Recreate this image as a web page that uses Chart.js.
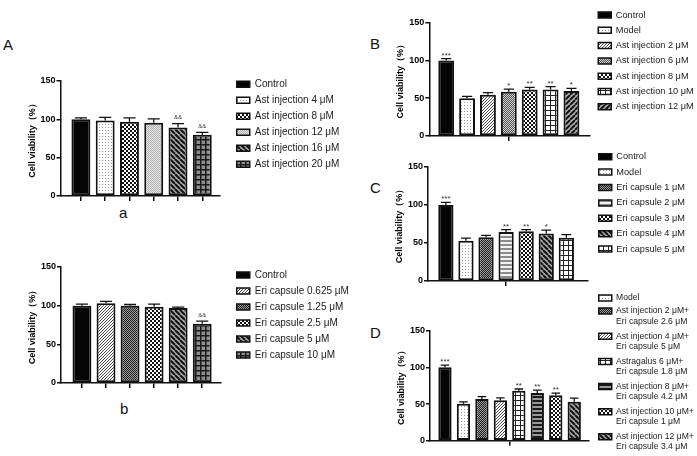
<!DOCTYPE html>
<html lang="en">
<head>
  <meta charset="UTF-8">
  <title>Cell viability | Ast injection and Eri capsule</title>
  <script src="https://cdn.jsdelivr.net/npm/chart.js"></script>
  <style>
    html, body { margin: 0; padding: 0; background: #fff; overflow: hidden; }
    #figure { position: relative; width: 697px; height: 456px; overflow: hidden; background: #fff; }
    #figure canvas { position: absolute; }
    .tag { position: absolute; font-family: "Liberation Sans Narrow", "Liberation Sans", Arial, sans-serif; font-size: 15px; line-height: 15px; color: #111; }
  </style>
</head>
<body>
<div id="figure">
  <div class="tag" style="left:3px; top:37px">A</div>
  <div class="tag" style="left:370px; top:36px">B</div>
  <div class="tag" style="left:370px; top:180px">C</div>
  <div class="tag" style="left:370px; top:325px">D</div>
  <div class="tag" style="left:119px; top:205px">a</div>
  <div class="tag" style="left:120px; top:401px">b</div>
  <canvas id="panelA"></canvas>
  <canvas id="panelB"></canvas>
  <canvas id="panelC"></canvas>
  <canvas id="panelD"></canvas>
  <canvas id="panelE"></canvas>
</div>

<script>
  // y axis ticks shared by every panel
  const yTicks = [0, 50, 100, 150];

  // A-a: Ast injection alone
  const aLabels = ['Control', 'Ast injection 4 μM', 'Ast injection 8 μM', 'Ast injection 12 μM', 'Ast injection 16 μM', 'Ast injection 20 μM'];
  const aValues = [100, 98.5, 97, 95.5, 89.5, 80];
  const aErrors = [2, 4, 5, 5, 5, 3];
  const aMarks = ['', '', '', '', '&&', '&&'];

  // A-b: Eri capsule alone
  const bLabels = ['Control', 'Eri capsule 0.625 μM', 'Eri capsule 1.25 μM', 'Eri capsule 2.5 μM', 'Eri capsule 5 μM', 'Eri capsule 10 μM'];
  const bValues = [100, 103, 100, 98.5, 97, 76.5];
  const bErrors = [2, 2.5, 1.5, 3.5, 1, 3.5];
  const bMarks = ['', '', '', '', '', '&&'];

  // B: Ast injection on the model
  const BLabels = ['Control', 'Model', 'Ast injection 2 μM', 'Ast injection 6 μM', 'Ast injection 8 μM', 'Ast injection 10 μM', 'Ast injection 12 μM'];
  const BValues = [100, 50, 54.5, 58.5, 61.5, 61.5, 59.5];
  const BErrors = [2.5, 2.5, 3, 3.5, 3, 4, 3.5];
  const BMarks = ['***', '', '', '*', '**', '**', '*'];

  // C: Eri capsule on the model
  const CLabels = ['Control', 'Model', 'Eri capsule 1 μM', 'Eri capsule 2 μM', 'Eri capsule 3 μM', 'Eri capsule 4 μM', 'Eri capsule 5 μM'];
  const CValues = [100, 53, 57.5, 64.5, 65.5, 62.5, 57];
  const CErrors = [3.5, 3.5, 2.5, 3, 2, 4.5, 4];
  const CMarks = ['***', '', '', '**', '**', '*', ''];

  // D: combinations
  const DLabels = ['Control', 'Model',
    ['Ast injection 2 μM+', 'Eri capsule 2.6 μM'],
    ['Ast injection 4 μM+', 'Eri capsule 5 μM'],
    ['Astragalus 6 μM+', 'Eri capsule 1.8 μM'],
    ['Ast injection 8 μM+', 'Eri capsule 4.2 μM'],
    ['Ast injection 10 μM+', 'Eri capsule 1 μM'],
    ['Ast injection 12 μM+', 'Eri capsule 3.4 μM']];
  const DValues = [100, 50.5, 57, 55, 68, 65, 62, 53];
  const DErrors = [3, 2.5, 3, 3.5, 2.5, 4, 3, 5];
  const DMarks = ['***', '', '', '', '**', '**', '**', ''];

  // fill pattern of each bar
  const aFills = ['solid', 'dots', 'check', 'stipple', 'back', 'grid'];
  const bFills = ['solid', 'hatch', 'checkDark', 'check', 'back', 'grid'];
  const BFills = ['solid', 'dots', 'hatch', 'checkGray', 'check', 'gridWhite', 'slash'];
  const CFills = ['solid', 'dots', 'checkDark', 'bands', 'check', 'back', 'gridWhite'];
  const DFills = ['solid', 'dots', 'checkDark', 'hatch', 'gridWhite', 'bandsDark', 'check', 'back'];

  const family = '"Liberation Sans", Arial, Helvetica, sans-serif';
  Chart.defaults.font.family = family;

  // --- patterns ---
  function tile(w, h, paint) {
    const c = document.createElement('canvas');
    c.width = w; c.height = h;
    const g = c.getContext('2d');
    paint(g);
    return g.createPattern(c, 'repeat');
  }
  function stripes(s, lw, fg, bg, back) {
    return tile(s, s, g => {
      g.fillStyle = bg; g.fillRect(0, 0, s, s);
      g.strokeStyle = fg; g.lineWidth = lw;
      g.beginPath();
      for (let k = -1; k <= 1; k++) {
        if (back) { g.moveTo(k * s, 0); g.lineTo(k * s + s, s); }
        else { g.moveTo(k * s, s); g.lineTo(k * s + s, 0); }
      }
      g.stroke();
    });
  }
  function checker(cell, a, b) {
    return tile(cell * 2, cell * 2, g => {
      g.fillStyle = b; g.fillRect(0, 0, cell * 2, cell * 2);
      g.fillStyle = a; g.fillRect(0, 0, cell, cell); g.fillRect(cell, cell, cell, cell);
    });
  }
  function grid(s, lw, line, bg) {
    return tile(s, s, g => {
      g.fillStyle = bg; g.fillRect(0, 0, s, s);
      g.fillStyle = line; g.fillRect(0, 0, s, lw); g.fillRect(0, 0, lw, s);
    });
  }
  function bands(h, a, b) {
    return tile(2, h * 2, g => {
      g.fillStyle = b; g.fillRect(0, 0, 2, h * 2);
      g.fillStyle = a; g.fillRect(0, 0, 2, h);
    });
  }
  function dots(s, dot, bg) {
    return tile(s, s, g => {
      g.fillStyle = bg; g.fillRect(0, 0, s, s);
      g.fillStyle = dot; g.fillRect(0, 0, 1, 1);
    });
  }
  const fillMakers = {
    solid: () => '#050505',
    dots: () => dots(3, '#9a9a9a', '#fff'),
    stipple: () => checker(1, '#b4b4b4', '#e4e4e4'),
    check: () => checker(2, '#111', '#fff'),
    checkDark: () => checker(1, '#222', '#9a9a9a'),
    checkGray: () => checker(1, '#555', '#cfcfcf'),
    hatch: () => stripes(3, 0.9, '#333', '#fff', false),
    slash: () => stripes(5, 2, '#111', '#b0b0b0', false),
    back: () => stripes(5, 2, '#111', '#a8a8a8', true),
    grid: () => grid(5, 1.5, '#1a1a1a', '#8e8e8e'),
    gridWhite: () => grid(5, 1, '#222', '#fff'),
    bands: () => bands(2, '#8a8a8a', '#f2f2f2'),
    bandsDark: () => bands(2, '#1a1a1a', '#9a9a9a')
  };

  // error bars and significance marks above each bar
  const errorBars = {
    id: 'errorBars',
    afterDatasetsDraw(chart) {
      const { ctx } = chart;
      const y = chart.scales.y;
      ctx.save();
      ctx.strokeStyle = '#111';
      ctx.lineWidth = 1.3;
      ctx.fillStyle = '#333';
      ctx.textAlign = 'center';
      ctx.textBaseline = 'alphabetic';
      chart.data.datasets.forEach((ds, i) => {
        const bar = chart.getDatasetMeta(i).data[0];
        const top = y.getPixelForValue(ds.data[0].y + ds.err);
        const half = bar.width * 0.32;
        ctx.beginPath();
        ctx.moveTo(bar.x, bar.y);
        ctx.lineTo(bar.x, top);
        ctx.moveTo(bar.x - half, top);
        ctx.lineTo(bar.x + half, top);
        ctx.stroke();
        if (ds.mark) {
          const star = ds.mark.includes('*');
          ctx.font = (star ? '8px ' : '6px ') + family;
          ctx.fillText(ds.mark, bar.x, top - (star ? 1 : 4.5));
        }
      });
      ctx.restore();
    }
  };

  function legendWidth(labels, pad, size) {
    const g = document.createElement('canvas').getContext('2d');
    g.font = size + 'px ' + family;
    let w = 0;
    labels.forEach(t => {
      const s = Array.isArray(t) ? t.reduce((a, b) => a.length > b.length ? a : b) : t;
      w = Math.max(w, g.measureText(s).width);
    });
    return pad + 13 + size / 2 + w + 10;
  }

  function buildPanel(id, geo, labels, values, errors, marks, fills) {
    const canvas = document.getElementById(id);
    const from = geo.legendFrom || 0;
    const legendLeft = geo.legendX - geo.left;
    const legendW = legendWidth(labels.slice(from), geo.legendPad, geo.font);
    const width = Math.ceil(legendLeft + legendW) + 1;
    canvas.width = width;
    canvas.height = geo.height;
    canvas.style.left = geo.left + 'px';
    canvas.style.top = geo.top + 'px';
    const xTicks = geo.singleTick ? [(labels.length - 1) / 2] : labels.map((_, i) => i);

    const datasets = labels.map((lab, i) => ({
      label: lab,
      data: [{ x: i, y: values[i] }],
      err: errors[i],
      mark: marks[i],
      backgroundColor: fillMakers[fills[i]](),
      borderColor: '#111',
      borderWidth: 2,
      borderSkipped: false,
      grouped: false,
      categoryPercentage: 1,
      barPercentage: geo.barPct
    }));

    return new Chart(canvas, {
      type: 'bar',
      data: { datasets },
      options: {
        responsive: false,
        animation: false,
        layout: {
          padding: { left: geo.padLeft, top: geo.padTop, bottom: geo.padBottom, right: width - legendLeft - legendW }
        },
        plugins: {
          legend: {
            position: 'right',
            align: 'start',
            maxWidth: 400,
            labels: {
              boxWidth: 13,
              boxHeight: 6,
              padding: geo.legendPad,
              color: '#1a1a1a',
              font: { size: geo.font, family, lineHeight: 1.2 },
              filter: item => item.datasetIndex >= from,
              generateLabels: chart => Chart.defaults.plugins.legend.labels.generateLabels(chart)
                .map(item => Object.assign(item, { lineWidth: 1.5 }))
            }
          },
          title: { display: true, text: '', font: { size: 1, lineHeight: 1 }, padding: { top: 0, bottom: geo.push - 1 } },
          tooltip: { enabled: false }
        },
        scales: {
          x: {
            type: 'linear',
            min: geo.xMin,
            max: geo.xMax,
            offset: false,
            bounds: 'data',
            afterBuildTicks: s => { s.ticks = xTicks.map(v => ({ value: v })); },
            ticks: { display: false },
            grid: { offset: false, drawOnChartArea: false, tickLength: 5, lineWidth: 1.5, color: '#111' },
            border: { color: '#111', width: 1.5 },
            title: geo.xPush
              ? { display: true, text: '', font: { size: 1, lineHeight: 1 }, padding: { top: 0, bottom: geo.xPush - 1 } }
              : { display: false }
          },
          y: {
            min: 0,
            max: 150,
            afterBuildTicks: s => { s.ticks = yTicks.map(v => ({ value: v })); },
            ticks: { color: '#000', padding: 1, font: { size: 9, weight: 'bold', family } },
            grid: { drawOnChartArea: false, tickLength: 4, lineWidth: 1.5, color: '#111' },
            border: { color: '#111', width: 1.5 },
            title: {
              display: true,
              text: 'Cell viability（%）',
              color: '#000',
              font: { size: 9, weight: 'bold', family },
              padding: { top: 0, bottom: 2 }
            }
          },
          gap: {
            position: 'right',
            grid: { display: false, drawTicks: false },
            border: { display: false },
            ticks: { display: false },
            afterFit: s => { s.width = geo.gap; }
          }
        }
      },
      plugins: [errorBars]
    });
  }

  buildPanel('panelA', { left: 0, top: 64, height: 139, padLeft: 26.7, padTop: 9.3, push: 7.7, padBottom: 2, font: 10,
    legendX: 230.75, legendPad: 6, gap: 11, xMin: -0.84, xMax: 5.72, barPct: 0.78 },
    aLabels, aValues, aErrors, aMarks, aFills);

  buildPanel('panelB', { left: 0, top: 250, height: 140.5, padLeft: 27.2, padTop: 14, push: 3, padBottom: 2, font: 10,
    legendX: 230.75, legendPad: 6, gap: 10.25, xMin: -0.87, xMax: 5.76, barPct: 0.785 },
    bLabels, bValues, bErrors, bMarks, bFills);

  buildPanel('panelC', { left: 395, top: 0, height: 143.7, padLeft: 0.5, padTop: 4.3, push: 18.4, padBottom: 2, font: 9.2,
    legendX: 592.15, legendPad: 6.1, gap: 2.15, xMin: -0.81, xMax: 6.89, barPct: 0.76, singleTick: true },
    BLabels, BValues, BErrors, BMarks, BFills);

  buildPanel('panelD', { left: 393, top: 140, height: 148.5, padLeft: 1.2, padTop: 5.9, push: 21.1, padBottom: 2, font: 9.2,
    legendX: 592.55, legendPad: 6.2, gap: 4.55, xMin: -0.89, xMax: 7.08, barPct: 0.76, singleTick: true },
    CLabels, CValues, CErrors, CMarks, CFills);

  buildPanel('panelE', { left: 395, top: 280, height: 200, padLeft: 1.2, padTop: 9.2, push: 41.5, padBottom: 0, xPush: 34.3,
    font: 8.6, legendX: 594.25, legendPad: 4.5, gap: 5.25, xMin: -0.81, xMax: 7.8, barPct: 0.72,
    singleTick: true, legendFrom: 1 },
    DLabels, DValues, DErrors, DMarks, DFills);
</script>
</body>
</html>
